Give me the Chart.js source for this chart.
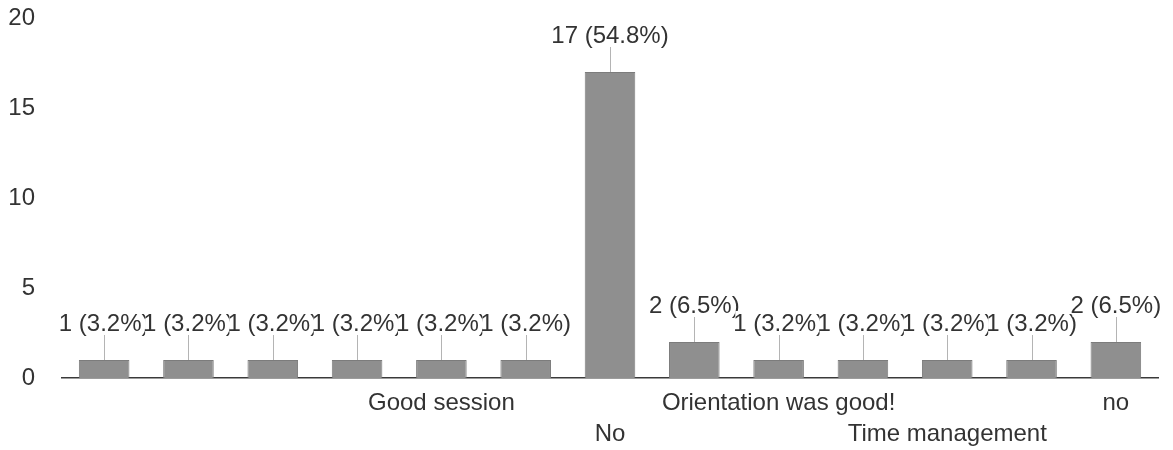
<!DOCTYPE html>
<html>
<head>
<meta charset="utf-8">
<script src="https://cdn.jsdelivr.net/npm/chart.js@4"></script>
<style>
  html, body { margin: 0; padding: 0; background: #fff; }
  #wrap { width: 1173px; height: 450px; position: relative; }
</style>
</head>
<body>
<div id="wrap"><canvas id="c" width="1173" height="450"></canvas></div>
<script>
// ---- data ----
const categories = ['', '', '', '', 'Good session', '', 'No', '', 'Orientation was good!', '', 'Time management', '', 'no'];
const counts = [1, 1, 1, 1, 1, 1, 17, 2, 1, 1, 1, 1, 2];
const yTicks = [0, 5, 10, 15, 20];

const total = counts.reduce((a, b) => a + b, 0);
const FONT = '"Liberation Sans", Arial, sans-serif';

const valueLabels = {
  id: 'valueLabels',
  afterDatasetsDraw(chart) {
    const ctx = chart.ctx;
    const meta = chart.getDatasetMeta(0);
    ctx.save();
    // leader lines
    ctx.strokeStyle = '#b4b4b4';
    ctx.lineWidth = 1;
    meta.data.forEach((bar) => {
      const x = Math.round(bar.x) + 0.5;
      ctx.beginPath();
      ctx.moveTo(x, bar.y);
      ctx.lineTo(x, bar.y - 26);
      ctx.stroke();
    });
    // text
    ctx.font = '24px ' + FONT;
    ctx.textAlign = 'center';
    ctx.textBaseline = 'middle';
    meta.data.forEach((bar, i) => {
      const v = counts[i];
      const txt = v + ' (' + (v / total * 100).toFixed(1) + '%)';
      const w = ctx.measureText(txt).width;
      const cy = bar.y - 36;
      ctx.fillStyle = '#fff';
      ctx.fillRect(bar.x - w / 2 + 2, cy - 13, w - 2, 24);
      ctx.fillStyle = '#333';
      ctx.fillText(txt, bar.x, cy);
    });
    ctx.restore();
  }
};

new Chart(document.getElementById('c'), {
  type: 'bar',
  data: {
    labels: categories,
    datasets: [{
      data: counts,
      backgroundColor: '#8f8f8f',
      borderColor: '#7c7c7c',
      borderWidth: 1,
      barPercentage: 0.6,
      categoryPercentage: 1.0
    }]
  },
  options: {
    responsive: false,
    animation: false,
    devicePixelRatio: 1,
    layout: { padding: { top: 18, right: 15, left: 0, bottom: 0 } },
    plugins: { legend: { display: false }, tooltip: { enabled: false } },
    scales: {
      x: {
        grid: { display: false, drawTicks: false, tickLength: 0 },
        border: { display: true, color: '#3a3a3a', width: 1.5 },
        ticks: {
          autoSkip: false,
          maxRotation: 0,
          minRotation: 0,
          padding: 10,
          color: '#333',
          font: { family: FONT, size: 24, lineHeight: 1.29 },
          callback: function (val, index) {
            const lab = categories[index];
            if (!lab) return '';
            return index % 4 === 2 ? ['', lab] : lab;
          }
        },
        afterFit: (s) => { s.height = 72; s.paddingLeft = 0; s.paddingRight = 0; }
      },
      y: {
        min: 0,
        max: 20,
        grid: { display: false, drawTicks: false, tickLength: 0 },
        border: { display: false },
        afterBuildTicks: (s) => { s.ticks = yTicks.map(v => ({ value: v })); },
        ticks: {
          padding: 27,
          color: '#333',
          font: { family: FONT, size: 24 }
        },
        afterFit: (s) => { s.width = 62; s.paddingTop = 0; s.paddingBottom = 0; }
      }
    }
  },
  plugins: [valueLabels]
});
</script>
</body>
</html>
